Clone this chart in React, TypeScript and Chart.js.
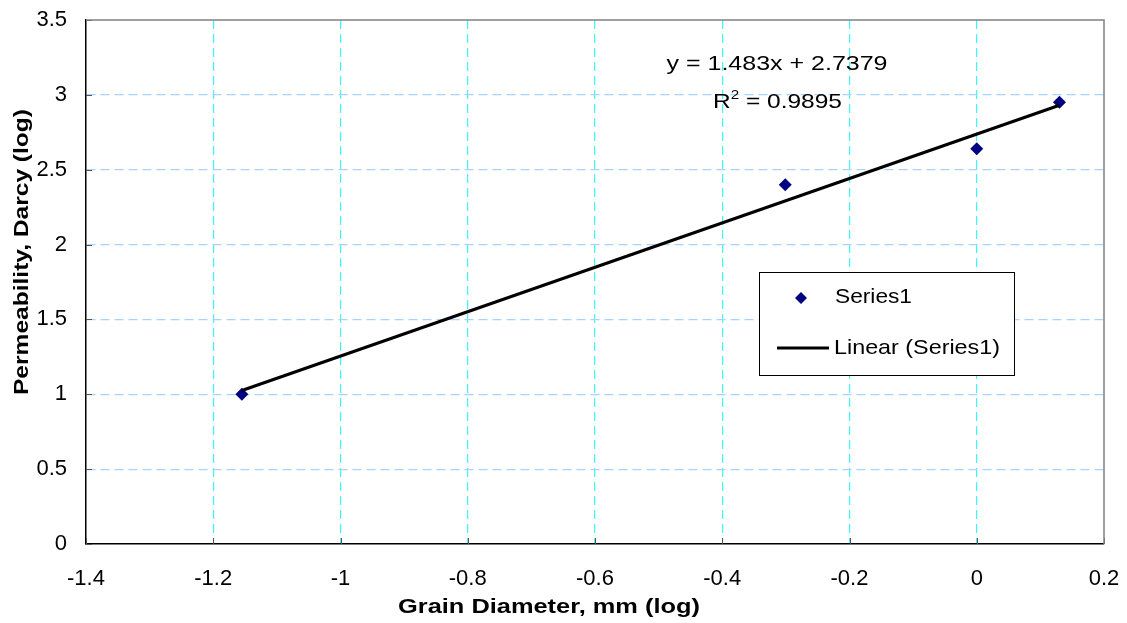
import React, { useEffect, useRef } from "react";
import { Chart, registerables } from "chart.js";

Chart.register(...registerables);

// Data
const grainDiameterLog = [-1.155, -0.301, 0, 0.13];
const permeabilityLog = [1.0, 2.4, 2.64, 2.95];
const trendX = [-1.155, 0.13];
const trendY = [1.0251, 2.9307];
const xTickValues = [-1.4, -1.2, -1, -0.8, -0.6, -0.4, -0.2, 0, 0.2];
const xTickLabels = ["-1.4", "-1.2", "-1", "-0.8", "-0.6", "-0.4", "-0.2", "0", "0.2"];
const yTickValues = [0, 0.5, 1, 1.5, 2, 2.5, 3, 3.5];
const yTickLabels = ["0", "0.5", "1", "1.5", "2", "2.5", "3", "3.5"];
const xTitle = "Grain Diameter, mm (log)";
const yTitle = "Permeability, Darcy (log)";
const equationText = "y = 1.483x + 2.7379";
const r2Value = " = 0.9895";
const seriesName = "Series1";
const trendName = "Linear (Series1)";

const FONT = "'Liberation Sans', Arial, sans-serif";
const NAVY = "#000080";

function stretchText(ctx: CanvasRenderingContext2D, text: string, x: number, y: number, font: string, width: number, align: "left" | "center") {
  ctx.save();
  ctx.font = font;
  const m = ctx.measureText(text).width;
  const s = width / m;
  ctx.textBaseline = "middle";
  ctx.textAlign = "left";
  const left = align === "center" ? x - width / 2 : x;
  ctx.translate(left, y);
  ctx.scale(s, 1);
  ctx.fillText(text, 0, 0);
  ctx.restore();
}

const overlayPlugin = {
  id: "overlay",
  beforeDatasetsDraw(chart: any) {
    const { ctx, chartArea: a, scales } = chart;
    ctx.save();
    ctx.strokeStyle = "#555";
    ctx.lineWidth = 1;
    xTickValues.forEach((v) => {
      const px = Math.round(scales.x.getPixelForValue(v)) + 0.5;
      ctx.beginPath();
      ctx.moveTo(px, a.bottom);
      ctx.lineTo(px, a.bottom - 6);
      ctx.stroke();
    });
    yTickValues.forEach((v) => {
      const py = Math.round(scales.y.getPixelForValue(v)) + 0.5;
      ctx.beginPath();
      ctx.moveTo(a.left, py);
      ctx.lineTo(a.left + 6, py);
      ctx.stroke();
    });
    ctx.strokeStyle = "#808080";
    ctx.lineWidth = 1.5;
    ctx.beginPath();
    ctx.moveTo(a.left, a.top);
    ctx.lineTo(a.right, a.top);
    ctx.lineTo(a.right, a.bottom);
    ctx.stroke();
    ctx.restore();
  },
  afterDraw(chart: any) {
    const { ctx } = chart;
    ctx.save();
    ctx.fillStyle = "#000";
    // axis titles
    stretchText(ctx, xTitle, 549, 607, `bold 21px ${FONT}`, 302, "center");
    ctx.save();
    ctx.translate(22, 252);
    ctx.rotate(-Math.PI / 2);
    stretchText(ctx, yTitle, 0, 0, `bold 21px ${FONT}`, 286, "center");
    ctx.restore();
    // equation
    stretchText(ctx, equationText, 777, 64, `21px ${FONT}`, 221, "center");
    ctx.save();
    ctx.textBaseline = "middle";
    ctx.textAlign = "left";
    ctx.font = `21px ${FONT}`;
    const rW = ctx.measureText("R").width;
    ctx.font = `13px ${FONT}`;
    const sW = ctx.measureText("2").width;
    ctx.font = `21px ${FONT}`;
    const tW = ctx.measureText(r2Value).width;
    const sc = 129 / (rW + sW + tW);
    ctx.translate(713, 102);
    ctx.scale(sc, 1);
    ctx.font = `21px ${FONT}`;
    ctx.fillText("R", 0, 0);
    ctx.font = `13px ${FONT}`;
    ctx.fillText("2", rW, -7);
    ctx.font = `21px ${FONT}`;
    ctx.fillText(r2Value, rW + sW, 0);
    ctx.restore();
    // legend
    ctx.fillStyle = "#fff";
    ctx.fillRect(759, 272, 255, 103);
    ctx.strokeStyle = "#000";
    ctx.lineWidth = 1;
    ctx.strokeRect(759.5, 272.5, 255, 103);
    ctx.fillStyle = NAVY;
    ctx.beginPath();
    ctx.moveTo(801, 292);
    ctx.lineTo(807, 298);
    ctx.lineTo(801, 304);
    ctx.lineTo(795, 298);
    ctx.closePath();
    ctx.fill();
    ctx.strokeStyle = "#000";
    ctx.lineWidth = 3;
    ctx.beginPath();
    ctx.moveTo(777, 348);
    ctx.lineTo(829, 348);
    ctx.stroke();
    ctx.fillStyle = "#000";
    stretchText(ctx, seriesName, 835, 297, `21px ${FONT}`, 77, "left");
    stretchText(ctx, trendName, 834, 348, `21px ${FONT}`, 166, "left");
    ctx.restore();
  },
};

export default function App() {
  const ref = useRef<HTMLCanvasElement | null>(null);
  useEffect(() => {
    if (!ref.current) return;
    const chart = new Chart(ref.current, {
      type: "scatter",
      data: {
        datasets: [
          {
            label: trendName,
            data: trendX.map((x, i) => ({ x, y: trendY[i] })),
            showLine: true,
            borderColor: "#000",
            borderWidth: 3,
            pointRadius: 0,
            fill: false,
          },
          {
            label: seriesName,
            data: grainDiameterLog.map((x, i) => ({ x, y: permeabilityLog[i] })),
            pointStyle: "rectRot",
            pointRadius: 6.5,
            pointBackgroundColor: NAVY,
            pointBorderColor: NAVY,
            pointBorderWidth: 0,
            showLine: false,
          },
        ],
      },
      plugins: [overlayPlugin],
      options: {
        animation: false,
        responsive: false,
        layout: { padding: { left: 0, right: 23, top: 20, bottom: 0 } },
        plugins: { legend: { display: false }, tooltip: { enabled: false }, title: { display: false } },
        scales: {
          x: {
            type: "linear",
            min: -1.4,
            max: 0.2,
            afterBuildTicks: (s: any) => {
              s.ticks = xTickValues.map((v) => ({ value: v }));
            },
            afterFit: (s: any) => {
              s.height = 79;
              s.paddingLeft = 0;
              s.paddingRight = 0;
            },
            ticks: {
              padding: 22,
              color: "#000",
              font: { family: FONT, size: 22 },
              maxRotation: 0,
              autoSkip: false,
              callback: (_v: any, i: number) => xTickLabels[i],
            },
            grid: {
              drawTicks: false,
              color: (c: any) => (c.index === 0 || c.index === xTickValues.length - 1 ? "rgba(0,0,0,0)" : "#3FF5F5"),
              lineWidth: 1.2,
            },
            border: { display: true, color: "#000", width: 1.5, dash: [9, 5] },
          },
          y: {
            type: "linear",
            min: 0,
            max: 3.5,
            afterBuildTicks: (s: any) => {
              s.ticks = yTickValues.map((v) => ({ value: v }));
            },
            afterFit: (s: any) => {
              s.width = 86;
              s.paddingTop = 0;
              s.paddingBottom = 0;
            },
            ticks: {
              padding: 19,
              color: "#000",
              font: { family: FONT, size: 22 },
              autoSkip: false,
              callback: (_v: any, i: number) => yTickLabels[i],
            },
            grid: {
              drawTicks: false,
              color: (c: any) => (c.index === 0 || c.index === yTickValues.length - 1 ? "rgba(0,0,0,0)" : "#A8D2FF"),
              lineWidth: 1.2,
            },
            border: { display: true, color: "#000", width: 1.5, dash: [9, 5] },
          },
        },
      },
    } as any);
    return () => chart.destroy();
  }, []);
  return (
    <div style={{ position: "fixed", left: 0, top: 0, width: 1127, height: 623, background: "#fff" }}>
      <canvas ref={ref} width={1127} height={623} style={{ width: 1127, height: 623 }} />
    </div>
  );
}
